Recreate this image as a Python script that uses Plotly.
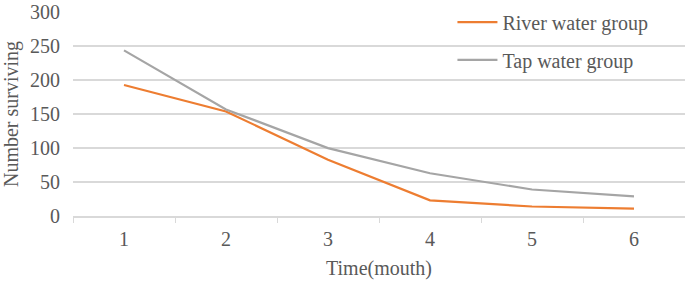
import plotly.graph_objects as go

months = ["1", "2", "3", "4", "5", "6"]
river = [193, 154, 83, 23, 14, 11]
tap = [244, 157, 100, 63, 39, 29]
y_ticks = [0, 50, 100, 150, 200, 250, 300]

FONT = "Liberation Serif"
TXT = "#595959"
FS = 20

fig = go.Figure()
fig.add_trace(go.Scatter(x=months, y=river, mode="lines", name="River water group",
                         line=dict(color="#ED7D31", width=2.2), legend="legend", showlegend=True))
fig.add_trace(go.Scatter(x=months, y=tap, mode="lines", name="Tap water group",
                         line=dict(color="#A5A5A5", width=2.2), legend="legend2", showlegend=True))

fig.update_layout(
    width=685, height=281,
    showlegend=True,
    margin=dict(l=73, r=0, t=12, b=65, autoexpand=False),
    paper_bgcolor="white", plot_bgcolor="white",
    font=dict(family=FONT, size=FS, color=TXT),
    legend=dict(x=0.62, y=0.95, xanchor="left", yanchor="middle", itemwidth=40,
                bgcolor="rgba(0,0,0,0)", font=dict(family=FONT, size=FS, color=TXT)),
    legend2=dict(x=0.62, y=0.765, xanchor="left", yanchor="middle", itemwidth=40,
                 bgcolor="rgba(0,0,0,0)", font=dict(family=FONT, size=FS, color=TXT)),
    xaxis=dict(type="category", range=[-0.5, 5.5], tickson="boundaries",
               ticks="outside", ticklen=5, tickcolor="#d9d9d9",
               showline=True, linecolor="#d9d9d9", linewidth=1.5,
               showgrid=False, zeroline=False, automargin=False,
               ticklabelstandoff=4,
               title=dict(text="Time(mouth)", font=dict(family=FONT, size=FS, color=TXT), standoff=12),
               tickfont=dict(family=FONT, size=FS, color=TXT)),
    yaxis=dict(range=[0, 300.5], tickvals=y_ticks, showgrid=True, gridcolor="#d9d9d9",
               gridwidth=1.5, zeroline=False, showline=False, ticks="", automargin=False,
               ticklabelstandoff=12, ticklabeloverflow="allow",
               title=dict(text="Number surviving", font=dict(family=FONT, size=FS, color=TXT), standoff=8),
               tickfont=dict(family=FONT, size=FS, color=TXT)),
)

fig.write_html("out.html", config={"displayModeBar": False},
               post_script="document.body.style.margin='0';")
